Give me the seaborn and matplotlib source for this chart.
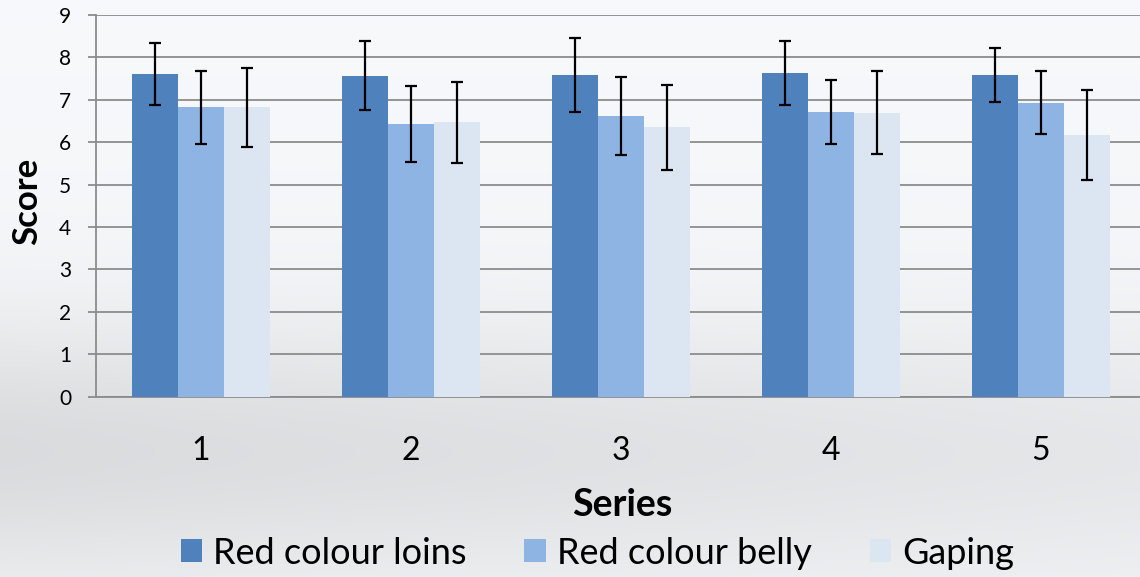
import numpy as np
import pandas as pd
import matplotlib
matplotlib.use("Agg")
import matplotlib.pyplot as plt
import seaborn as sns

# ---- data ----
series = ["1", "2", "3", "4", "5"]
measures = ["Red colour loins", "Red colour belly", "Gaping"]
loins = [7.61, 7.57, 7.59, 7.63, 7.59]
belly = [6.82, 6.43, 6.62, 6.72, 6.93]
gaping = [6.82, 6.47, 6.35, 6.70, 6.17]
loins_err = [0.73, 0.82, 0.87, 0.76, 0.64]
belly_err = [0.86, 0.89, 0.92, 0.75, 0.74]
gaping_err = [0.93, 0.95, 1.01, 0.97, 1.07]
colors = ["#4F81BD", "#8EB4E3", "#DCE6F2"]

values = [loins, belly, gaping]
errors = [loins_err, belly_err, gaping_err]

df = pd.DataFrame({
    "Series": series * 3,
    "Score": loins + belly + gaping,
    "Measure": [m for m in measures for _ in series],
})

sns.set_theme(style="white")
plt.rcParams["font.family"] = ["Lato", "DejaVu Sans"]
plt.rcParams["text.color"] = "black"
plt.rcParams["axes.labelcolor"] = "black"

W, H = 1140, 577
fig = plt.figure(figsize=(W / 100, H / 100), dpi=100)

# background gradient
bg = fig.add_axes([0, 0, 1, 1], zorder=-10)
yy, xx = np.mgrid[0:1:200j, 0:1:400j]
band = np.exp(-((yy - 0.78) / 0.22) ** 2)
val = 0.985 - 0.10 * band * (1.0 - 0.45 * xx) - 0.02 * yy
val = np.clip(val, 0, 1)
img = np.dstack([val * 0.985, val * 0.99, val * 1.0])
img = np.clip(img, 0, 1)
bg.imshow(img, aspect="auto", extent=[0, 1, 1, 0])
bg.set_axis_off()

left = 96 / W
bottom = 1 - 396.7 / H
top = 1 - 15 / H
ax = fig.add_axes([left, bottom, 1 - left, top - bottom])
ax.set_facecolor("none")

sns.barplot(data=df, x="Series", y="Score", hue="Measure", hue_order=measures,
            order=series, palette=colors, saturation=1, width=0.66, gap=0,
            errorbar=None, ax=ax, zorder=3, linewidth=0)

for cont, err in zip(ax.containers, errors):
    xs = [p.get_x() + p.get_width() / 2 for p in cont.patches]
    hs = [p.get_height() for p in cont.patches]
    ax.errorbar(xs, hs, yerr=err, fmt="none", ecolor="black",
                elinewidth=1.6, capsize=4.5, capthick=1.6, zorder=5)

ax.set_ylim(0, 9)
ax.set_xlim(-0.5, -0.5 + (W - 96) / 210)
ax.set_yticks(range(0, 10))
ax.yaxis.grid(True, color="#8c8c8c", linewidth=1.3, zorder=0)
ax.set_axisbelow(True)
for s in ["top", "right"]:
    ax.spines[s].set_visible(False)
ax.spines["left"].set_color("#8c8c8c")
ax.spines["left"].set_linewidth(1.3)
ax.spines["bottom"].set_color("#8c8c8c")
ax.spines["bottom"].set_linewidth(1.3)

ax.tick_params(axis="y", which="both", left=True, length=5.8, width=1.3,
               color="#8c8c8c", pad=12, labelsize=15, labelcolor="black")
ax.tick_params(axis="x", length=0, pad=28, labelsize=23, labelcolor="black")

ax.set_xlabel("Series", fontsize=27, fontweight="bold", va="center", color="black")
ax.xaxis.set_label_coords((622 - 96) / (W - 96), (396.7 - 505.5) / 381.7)
ax.set_ylabel("Score", fontsize=25, fontweight="bold", va="center", color="black")
ax.yaxis.set_label_coords((27 - 96) / (W - 96), (396.7 - 201) / 381.7)

handles, labels = ax.get_legend_handles_labels()
if ax.get_legend() is not None:
    ax.get_legend().remove()
fig.legend(handles, labels, loc="center", ncol=3, frameon=False,
           bbox_to_anchor=(0.524, 1 - 553 / H), fontsize=26, labelcolor="black",
           handlelength=0.6, handleheight=0.6, handletextpad=0.3,
           columnspacing=1.6, borderaxespad=0)

fig.savefig("out.png", dpi=100)
